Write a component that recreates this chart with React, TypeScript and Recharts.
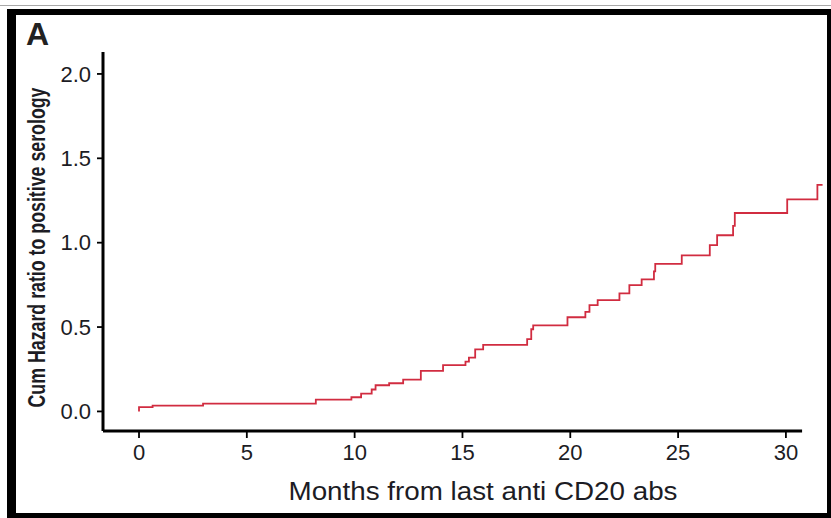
import { LineChart, Line, XAxis, YAxis, ReferenceLine } from "recharts";

// step times (months) and cumulative hazard
const MONTHS = [
  0, 0, 0.63, 2.97, 8.2, 9.85, 10.3, 10.79, 10.97, 11.6, 12.25, 13.07, 14.1,
  15.14, 15.3, 15.59, 15.96, 18.0, 18.19, 18.28, 19.87, 20.7, 20.89, 21.27,
  22.28, 22.74, 23.31, 23.88, 23.94, 25.17, 26.47, 26.81, 27.55, 27.63, 30.06,
  31.46, 31.7,
];
const CUM_HAZARD = [
  0, 0.025, 0.034, 0.046, 0.07, 0.084, 0.105, 0.13, 0.155, 0.167, 0.188, 0.24,
  0.274, 0.295, 0.319, 0.368, 0.394, 0.428, 0.487, 0.51, 0.558, 0.59, 0.63,
  0.66, 0.7, 0.748, 0.783, 0.83, 0.874, 0.925, 0.985, 1.044, 1.1, 1.176, 1.257,
  1.342, 1.342,
];
const X_TICKS = [0, 5, 10, 15, 20, 25, 30];
const Y_TICKS = [0, 0.5, 1, 1.5, 2];

const X_DOMAIN: [number, number] = [-1.67, 31.72];
const X_AXIS_END = 30.75;
const Y_DOMAIN: [number, number] = [-0.116, 2.13];

const FONT = '"Liberation Sans", Arial, sans-serif';
const INK = "#1c1c24";

const data = MONTHS.map((m, i) => ({ month: m, hazard: CUM_HAZARD[i] }));

function YTitle({ viewBox }: any) {
  const cx = viewBox.x + viewBox.width - 66;
  const cy = viewBox.y + viewBox.height / 2 + 6;
  return (
    <g transform={`translate(${cx} ${cy}) rotate(-90)`}>
      <text
        x={0}
        y={0}
        textAnchor="middle"
        dominantBaseline="central"
        textLength={320}
        lengthAdjust="spacingAndGlyphs"
        fontSize={23}
        fontWeight="bold"
        fontFamily={FONT}
        fill={INK}
      >
        Cum Hazard ratio to positive serology
      </text>
    </g>
  );
}

function XTitle({ viewBox }: any) {
  const cx = viewBox.x + viewBox.width / 2 + 20;
  return (
    <text
      x={cx}
      y={viewBox.y + 69}
      textAnchor="middle"
      textLength={389}
      lengthAdjust="spacingAndGlyphs"
      fontSize={26}
      fontFamily={FONT}
      fill={INK}
    >
      Months from last anti CD20 abs
    </text>
  );
}

export default function App() {
  return (
    <div
      style={{
        position: "absolute",
        left: 0,
        top: 0,
        width: 831,
        height: 518,
        overflow: "hidden",
        background: "#fff",
        fontFamily: FONT,
      }}
    >
      <div
        style={{
          position: "absolute",
          left: 0,
          top: 5,
          width: 831,
          height: 1,
          background: "#a8a8a8",
        }}
      />
      <div
        style={{
          position: "absolute",
          left: 7,
          top: 9,
          width: 824,
          height: 509,
          boxSizing: "border-box",
          borderStyle: "solid",
          borderColor: "#000",
          borderWidth: "6px 4px 5px 9px",
        }}
      />
      <div
        style={{
          position: "absolute",
          left: 26,
          top: 16,
          fontSize: 32,
          fontWeight: "bold",
          color: "#222",
        }}
      >
        A
      </div>
      <div style={{ position: "absolute", left: 0, top: 0 }}>
        <LineChart
          width={831}
          height={518}
          data={data}
          margin={{ top: 52, right: 8, bottom: 27, left: 43 }}
        >
          <XAxis
            dataKey="month"
            type="number"
            domain={X_DOMAIN}
            ticks={X_TICKS}
            allowDataOverflow
            axisLine={false}
            tickLine={{ stroke: "#000", strokeWidth: 1.8 }}
            tickSize={7}
            tickMargin={6}
            height={60}
            tick={{ fill: INK, fontSize: 22, fontFamily: FONT }}
            label={{ content: <XTitle /> }}
          />
          <YAxis
            type="number"
            domain={Y_DOMAIN}
            ticks={Y_TICKS}
            allowDataOverflow
            width={60}
            axisLine={{ stroke: "#000", strokeWidth: 3 }}
            tickLine={{ stroke: "#000", strokeWidth: 1.8 }}
            tickSize={6}
            tickMargin={6}
            tickFormatter={(v: number) => v.toFixed(1)}
            tick={{ fill: INK, fontSize: 22, fontFamily: FONT }}
            label={{ content: <YTitle /> }}
          />
          <ReferenceLine
            segment={[
              { x: X_DOMAIN[0], y: Y_DOMAIN[0] },
              { x: X_AXIS_END, y: Y_DOMAIN[0] },
            ]}
            stroke="#000"
            strokeWidth={3}
            ifOverflow="visible"
          />
          <Line
            type="stepAfter"
            dataKey="hazard"
            stroke="#d12c40"
            strokeWidth={1.8}
            dot={false}
            isAnimationActive={false}
          />
        </LineChart>
      </div>
    </div>
  );
}
